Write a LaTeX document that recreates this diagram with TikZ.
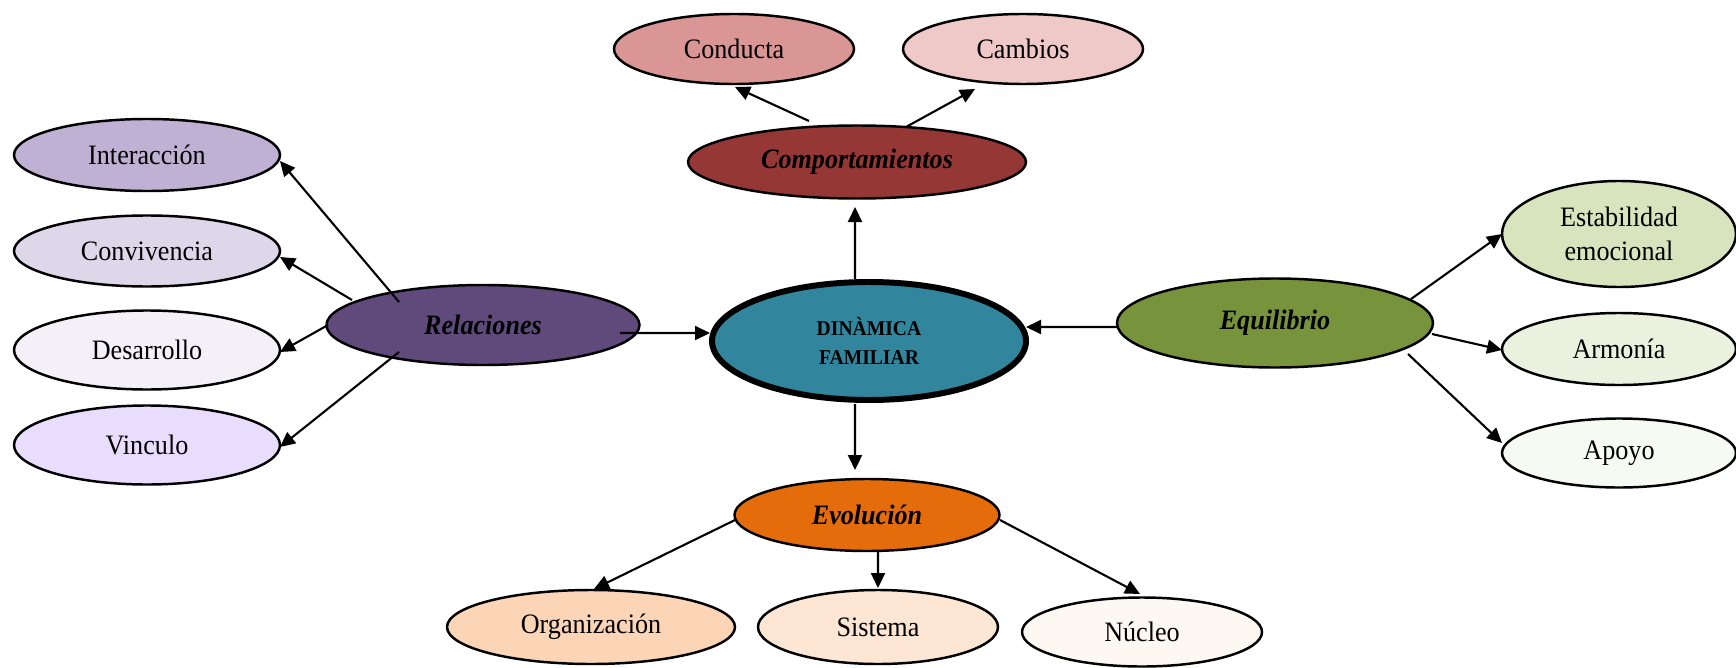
\documentclass[tikz,border=0pt]{standalone}
\usepackage{fontspec}
\setmainfont[FakeStretch=0.93]{Liberation Serif}
\usetikzlibrary{positioning, calc, shapes.geometric, arrows.meta}
\definecolor{compred}{RGB}{149,55,53}
\definecolor{condred}{RGB}{218,150,148}
\definecolor{cambred}{RGB}{238,201,200}
\definecolor{relpurple}{RGB}{96,74,123}
\definecolor{intpurple}{RGB}{191,177,211}
\definecolor{convpurple}{RGB}{222,215,233}
\definecolor{despurple}{RGB}{243,241,247}
\definecolor{vincpurple}{RGB}{233,221,254}
\definecolor{dinteal}{RGB}{49,133,156}
\definecolor{equgreen}{RGB}{119,147,60}
\definecolor{estgreen}{RGB}{215,228,189}
\definecolor{armgreen}{RGB}{235,241,222}
\definecolor{apogreen}{RGB}{247,250,242}
\definecolor{evoorange}{RGB}{228,108,10}
\definecolor{orgorange}{RGB}{251,213,181}
\definecolor{sisorange}{RGB}{253,230,212}
\definecolor{nucorange}{RGB}{254,248,243}

\begin{document}
\begin{tikzpicture}[
        leafbox/.style={ellipse, draw=black, line width=0.7pt, inner sep=0pt, align=center,
                        minimum width=2.4cm, minimum height=0.7cm, font=\fontsize{8}{9.7}\selectfont},
        hubbox/.style={leafbox, font=\fontsize{8}{9.7}\selectfont\bfseries\itshape},
        corebox/.style={ellipse, draw=black, line width=1.7pt, inner sep=0pt, align=center,
                        minimum width=3.14cm, minimum height=1.18cm, font=\fontsize{6}{8.2}\selectfont\bfseries},
        arrow/.style={-{Triangle[length=1.5mm, width=1.4mm]}, line width=0.6pt},
    ]
    \useasboundingbox (0,0) rectangle (17.36,-6.67);

    % ===== Centre =====
    \node[corebox, fill=dinteal] (DIN) at (8.69,-3.41) {DINÀMICA\\FAMILIAR};

    % ===== Comportamientos =====
    \node[hubbox, fill=compred, minimum width=3.38cm, minimum height=0.73cm] (COMP) at (8.57,-1.62) {Comportamientos};
    \node[leafbox, fill=condred] (COND) at (7.34,-0.49) {Conducta};
    \node[leafbox, fill=cambred] (CAMB) at (10.23,-0.49) {Cambios};

    \draw[arrow] ($(COMP)+(-0.48,0.41)$) -- ($(COND)+(0.01,-0.38)$);
    \draw[arrow] ($(COMP)+(0.49,0.35)$) -- ($(CAMB)+(-0.48,-0.40)$);
    \draw[arrow] ($(DIN)+(-0.14,0.62)$) -- ($(COMP)+(-0.02,-0.45)$);

    % ===== Relaciones =====
    \node[hubbox, fill=relpurple, minimum width=3.13cm, minimum height=0.8cm] (REL) at (4.83,-3.25) {Relaciones};
    \node[leafbox, fill=intpurple, minimum width=2.66cm, minimum height=0.72cm] (INT) at (1.47,-1.55) {Interacción};
    \node[leafbox, fill=convpurple, minimum width=2.66cm, minimum height=0.71cm] (CONV) at (1.47,-2.51) {Convivencia};
    \node[leafbox, fill=despurple, minimum width=2.66cm, minimum height=0.79cm] (DES) at (1.47,-3.50) {Desarrollo};
    \node[leafbox, fill=vincpurple, minimum width=2.66cm, minimum height=0.79cm] (VINC) at (1.47,-4.45) {Vinculo};

    \draw[arrow] ($(REL)+(-0.84,0.23)$) -- ($(INT)+(1.33,-0.06)$);
    \draw[arrow] ($(REL)+(-1.31,0.25)$) -- ($(CONV)+(1.33,-0.06)$);
    \draw[arrow] ($(REL)+(-1.55,0)$) -- ($(DES)+(1.33,-0.02)$);
    \draw[arrow] ($(REL)+(-0.84,-0.27)$) -- ($(VINC)+(1.33,-0.02)$);
    \draw[arrow] ($(REL)+(1.37,-0.08)$) -- ($(DIN)+(-1.59,0.08)$);

    % ===== Equilibrio =====
    \node[hubbox, fill=equgreen, minimum width=3.16cm, minimum height=0.89cm] (EQU) at (12.75,-3.23) {Equilibrio};
    \node[leafbox, fill=estgreen, minimum width=2.34cm, minimum height=1.06cm] (EST) at (16.19,-2.34) {Estabilidad\\emocional};
    \node[leafbox, fill=armgreen, minimum width=2.34cm, minimum height=0.72cm] (ARM) at (16.19,-3.49) {Armonía};
    \node[leafbox, fill=apogreen, minimum width=2.34cm, minimum height=0.69cm] (APO) at (16.19,-4.53) {Apoyo};

    \draw[arrow] ($(EQU)+(-1.57,-0.04)$) -- ($(DIN)+(1.57,0.14)$);
    \draw[arrow] ($(EQU)+(1.36,0.24)$) -- ($(EST)+(-1.17,0)$);
    \draw[arrow] ($(EQU)+(1.57,-0.11)$) -- ($(ARM)+(-1.17,-0.01)$);
    \draw[arrow] ($(EQU)+(1.33,-0.31)$) -- ($(APO)+(-1.17,0.10)$);

    % ===== Evolución =====
    \node[hubbox, fill=evoorange, minimum width=2.65cm, minimum height=0.72cm] (EVO) at (8.67,-5.15) {Evolución};
    \node[leafbox, fill=orgorange, minimum width=2.88cm, minimum height=0.74cm] (ORG) at (5.91,-6.27) {Organización};
    \node[leafbox, fill=sisorange, minimum height=0.74cm] (SIS) at (8.78,-6.27) {Sistema};
    \node[leafbox, fill=nucorange, minimum height=0.69cm] (NUC) at (11.42,-6.32) {Núcleo};

    \draw[arrow] ($(DIN)+(-0.14,-0.63)$) -- ($(EVO)+(-0.12,0.45)$);
    \draw[arrow] ($(EVO)+(-1.32,-0.05)$) -- ($(ORG)+(0.03,0.38)$);
    \draw[arrow] ($(EVO)+(0.11,-0.35)$) -- ($(SIS)+(0,0.39)$);
    \draw[arrow] ($(EVO)+(1.33,-0.05)$) -- ($(NUC)+(-0.02,0.38)$);

\end{tikzpicture}
\end{document}
